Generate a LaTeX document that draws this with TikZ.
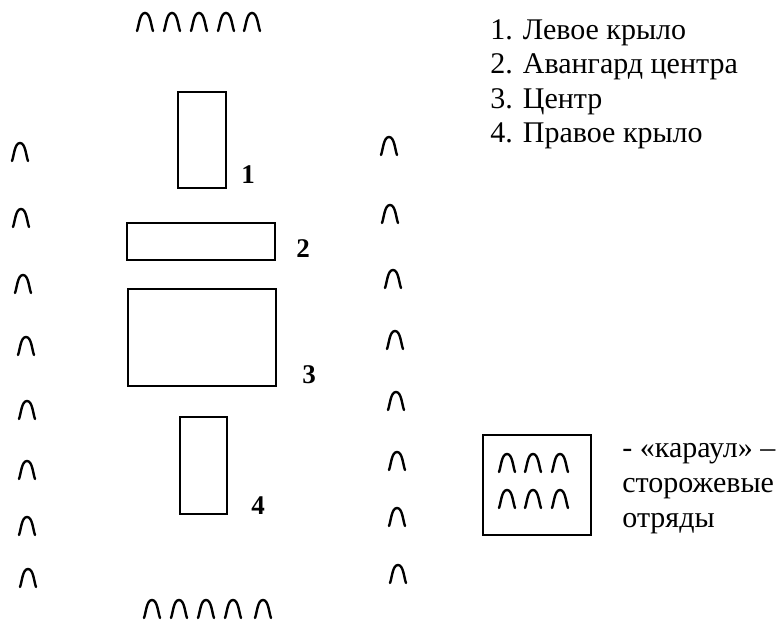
\documentclass[tikz,border=0pt]{standalone}
\usepackage{fontspec}
\setmainfont{Liberation Serif}
\usetikzlibrary{positioning}
\tikzset{
    guard/.pic={
        \draw[line width=1.2pt,line cap=round]
            (-8,9) .. controls (-6,4) and (-5.5,-9) .. (0,-9)
                   .. controls (5.5,-9) and (6,4) .. (8,9);
    },
    unit-box/.style={
        draw=black,
        line width=1pt,
        inner sep=0pt
    },
    unit-num/.style={
        inner sep=0pt,
        font=\fontsize{13.5}{15}\selectfont\bfseries
    },
    key-text/.style={
        anchor=base west,
        inner sep=0pt,
        font=\fontsize{15}{17}\selectfont
    },
}
\begin{document}
\begin{tikzpicture}[x=0.5pt,y=-0.5pt]
       \useasboundingbox (0,0) rectangle (781,622);

       \node[unit-box,minimum width=24pt,minimum height=48pt] (wingL) at (202,140) {};
       \node[unit-box,minimum width=74pt,minimum height=18.5pt] (vanguard) at (201,241.5) {};
       \node[unit-box,minimum width=74pt,minimum height=48.5pt] (centre) at (202,337.5) {};
       \node[unit-box,minimum width=23.5pt,minimum height=48.5pt] (wingR) at (203.5,465.5) {};

       \node[unit-num,above right=2.5pt and 7pt of wingL.south east] (num1) {1};
       \node[unit-num,above right=1.5pt and 10pt of vanguard.south east] (num2) {2};
       \node[unit-num,above right=1.5pt and 12.5pt of centre.south east] (num3) {3};
       \node[unit-num,above right=0pt and 11.5pt of wingR.south east] (num4) {4};

       % guards round the army
       \foreach \gx in {145,172,199,226,252}
           \pic at (\gx,22) {guard};
       \foreach \gx in {152,179,206,233,263}
           \pic at (\gx,609) {guard};
       \foreach \gx/\gy in {20/152,21/218,23/284,26/346,27/410,27/470,27/526,28/578}
           \pic at (\gx,\gy) {guard};
       \foreach \gx/\gy in {389/146,390/214,393/279,395/340,396/401,397/461,397/517,398/574}
           \pic at (\gx,\gy) {guard};

       % key
       \node[key-text] (item1) at (490,39) {1. Левое крыло};
       \node[key-text] (item2) at (490,73) {2. Авангард центра};
       \node[key-text] (item3) at (490,108) {3. Центр};
       \node[key-text] (item4) at (490,142) {4. Правое крыло};

       \node[unit-box,minimum width=54pt,minimum height=50pt] (guardbox) at (537,485) {};
       \foreach \gx in {507,533,560}
           \foreach \gy in {463,499}
               \pic at (\gx,\gy) {guard};

       \node[key-text] (watch1) at (622,457) {- «караул» –};
       \node[key-text] (watch2) at (622,492) {сторожевые};
       \node[key-text] (watch3) at (622,527) {отряды};

   \end{tikzpicture}
\end{document}
